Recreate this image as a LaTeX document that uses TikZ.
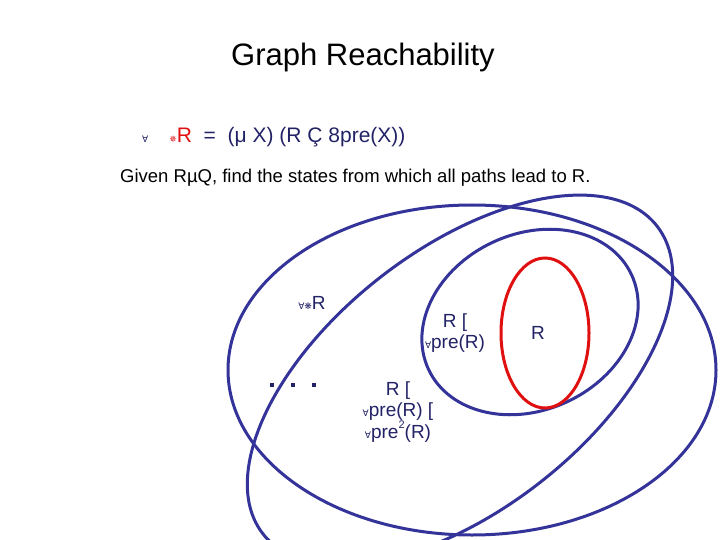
\documentclass[tikz,border=0pt]{standalone}
\usepackage{fontspec}
\setmainfont{Liberation Sans}
\newfontfamily\dejavu{DejaVu Sans}
\begin{document}
\begin{tikzpicture}[x=1pt,y=-1pt,
  ell/.style={draw=ellblue,line width=3pt},
  txt/.style={text=txtblue,font=\fontsize{19}{21}\selectfont,align=center,inner sep=0pt}]
\definecolor{ellblue}{HTML}{333399}
\definecolor{txtblue}{HTML}{222266}
\definecolor{myred}{HTML}{E01010}
\useasboundingbox (0,0) rectangle (720,540);
\node[font=\fontsize{31}{34}\selectfont,inner sep=0pt] (title) at (363,57) {Graph Reachability};
\node[anchor=west,inner sep=0pt,font=\fontsize{21}{23}\selectfont,text=txtblue] (f) at (142,137)
 {{\dejavu\small ∀}\quad{\color{myred}{\dejavu\small ✵}R}\ \ =\ \ (μ X) (R Ç 8pre(X))};
\node[anchor=west,inner sep=0pt,font=\fontsize{18.5}{20}\selectfont] (g) at (120,178)
 {Given RµQ, find the states from which all paths lead to R.};
\draw[ell] (472,370) ellipse[x radius=244,y radius=165];
\draw[ell,rotate around={38:(460,380)}] (460,380) ellipse[x radius=250,y radius=130];
\draw[ell,rotate around={25:(530,322)}] (530,322) ellipse[x radius=112,y radius=88];
\draw[draw=myred,line width=3pt] (545,333) ellipse[x radius=44,y radius=75];
\node[txt] (ar) at (312,303) {{\dejavu\small ∀❋}R};
\node[txt] (r1) at (455,333) {R [\\{\dejavu\small ∀}pre(R)};
\node[txt] (r2) at (398,412) {R [\\{\dejavu\small ∀}pre(R) [\\{\dejavu\small ∀}pre{\raisebox{0.5em}{\fontsize{11}{12}\selectfont 2}}(R)};
\foreach \i/\x in {1/272,2/293,3/314} \fill[txtblue] (\x-2,383) rectangle (\x+2,387);
\node[txt] (R) at (538,333) {R};
\end{tikzpicture}
\end{document}
